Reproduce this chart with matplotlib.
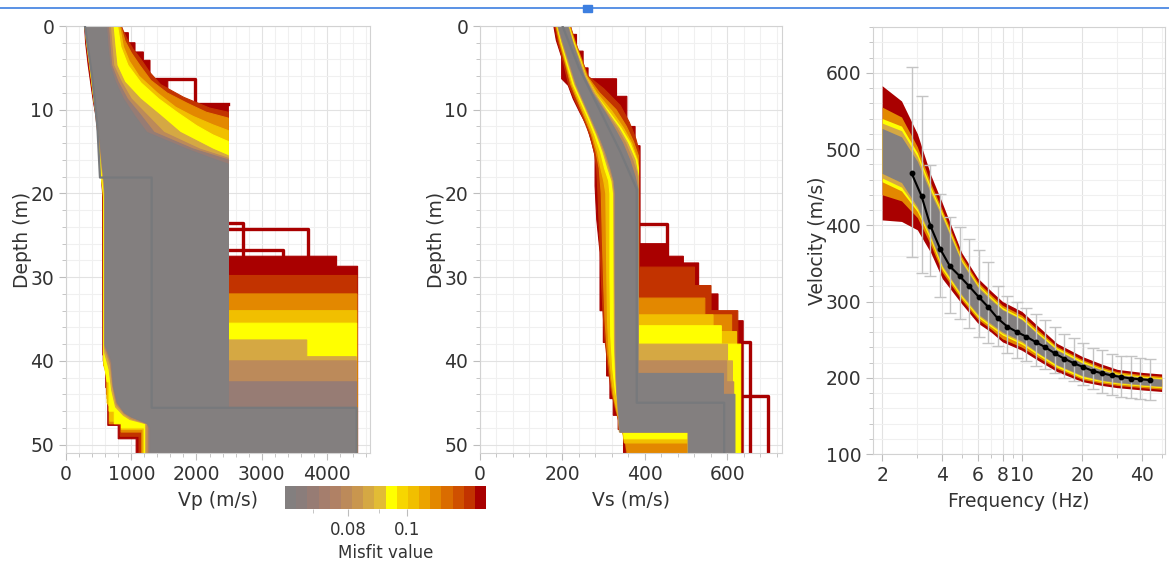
import numpy as np
import matplotlib.pyplot as plt
from matplotlib.colors import ListedColormap, LogNorm
from matplotlib.cm import ScalarMappable
from matplotlib.ticker import MultipleLocator, FixedLocator, FixedFormatter, NullFormatter
from matplotlib.lines import Line2D
from matplotlib.patches import Rectangle

# misfit palette (gray -> yellow -> dark red), log spaced classes
palette = ['#837f7f', '#8a7d7b', '#977c74', '#a57e6d', '#b08165', '#bc8a5a', '#c9964e', '#d5a843', '#e2bc35',
           '#ffff00', '#f7d600', '#f1bf00', '#eca400', '#e38800', '#da6c00', '#cf5000', '#c23300', '#a90000']
misfit_min, misfit_max = 0.0628, 0.1354

# ---- Vp ensemble: region covered by models of each misfit class, (Vp, depth) ----
vp_misfit = [0.132, 0.126, 0.112, 0.102, 0.094, 0.086, 0.078, 0.070, 0.064]
vp_left = [
    [(285, 0), (300, 2), (340, 4.7), (400, 8), (430, 9.5), (470, 11), (520, 15), (545, 18), (560, 20), (565, 39.3),
     (610, 39.3), (610, 43.2), (640, 43.2), (640, 47.7), (800, 47.7), (800, 49.3), (1075, 49.3), (1075, 51)],
    [(288, 0), (310, 2), (355, 4.7), (410, 8), (445, 10), (490, 13), (530, 16.5), (555, 19), (568, 20.5), (570, 40),
     (620, 40), (620, 44), (655, 44), (655, 47.5), (830, 47.5), (830, 49), (1120, 49), (1120, 51)],
    [(290, 0), (315, 2), (362, 4.7), (425, 8.5), (455, 10), (500, 13.5), (535, 16.5), (558, 19), (572, 20.5),
     (575, 40.5), (628, 41), (628, 44.5), (665, 44.5), (665, 47.5), (845, 47.5), (845, 48.5), (1160, 48.5), (1160, 51)],
    [(291, 0), (318, 2), (366, 4.8), (432, 9), (465, 10.5), (505, 13.5), (530, 16), (545, 18), (575, 20.3), (578, 40.5),
     (630, 42), (630, 45), (670, 45.5), (670, 47.2), (850, 47.2), (850, 48.2), (1180, 48.2), (1180, 51)],
    [(291, 0), (320, 2), (370, 5), (440, 9.5), (470, 10.5), (500, 13), (520, 16), (540, 18), (575, 20), (580, 40),
     (630, 42.5), (660, 42.5), (660, 46), (740, 46), (740, 47.5), (850, 47.5), (850, 48), (1200, 48), (1200, 51)],
    [(293, 0), (325, 2), (380, 5.5), (450, 9.5), (500, 13), (530, 15.5), (555, 17.5), (580, 19.5), (588, 20.5),
     (590, 39), (660, 41), (700, 43.5), (760, 45.5), (880, 46.5), (980, 47), (1220, 47.5), (1220, 51)],
    [(294, 0), (327, 2), (385, 5.2), (455, 9.2), (505, 12.8), (535, 15.2), (560, 17.2), (583, 18.8), (594, 20),
     (595, 38.5), (680, 40.5), (715, 43), (770, 45.2), (890, 46.3), (1000, 46.9), (1240, 47.5), (1240, 51)],
    [(295, 0), (328, 2), (388, 5), (458, 9), (508, 12.7), (538, 15), (563, 17), (585, 18.3), (598, 20), (598, 38.2),
     (690, 40.2), (722, 43), (780, 45), (895, 46.2), (1003, 46.7), (1245, 47.4), (1270, 48), (1270, 51)],
    [(296, 0), (330, 2), (390, 5), (460, 9), (510, 12.7), (540, 15), (565, 17), (587, 18.3), (600, 20), (600, 38),
     (700, 40), (730, 43), (790, 45), (900, 46.2), (1006, 46.7), (1250, 47.5), (1290, 48), (1290, 51)],
]
vp_right = [
    [(853, 0), (853, 0.8), (955, 0.8), (955, 2), (1057, 2), (1057, 3.1), (1185, 3.1), (1185, 4.1), (1287, 4.1),
     (1287, 6.3), (1560, 6.3), (1560, 9.3), (2488, 9.3), (2488, 27.5), (4148, 27.5), (4148, 28.7), (4470, 28.7),
     (4470, 51)],
    [(845, 0), (930, 1.5), (1030, 2.8), (1150, 4), (1280, 5.5), (1450, 7), (1800, 8.5), (2200, 9.8), (2488, 10.3),
     (2488, 29.8), (4460, 29.8), (4460, 51)],
    [(835, 0), (905, 1.8), (1000, 3.2), (1130, 4.7), (1300, 6.5), (1550, 8), (1850, 9.2), (2150, 10.3), (2488, 11),
     (2488, 32), (4460, 32), (4460, 51)],
    [(820, 0), (880, 2.5), (970, 4.2), (1120, 6), (1400, 8), (1680, 9.7), (1950, 10.8), (2250, 11.8), (2488, 12.5),
     (2488, 34), (4455, 34), (4455, 51)],
    [(790, 0), (840, 2.5), (950, 4.7), (1150, 6.8), (1420, 8.7), (1700, 10.3), (2000, 11.9), (2250, 13),
     (2488, 13.8), (2488, 35.5), (4455, 35.5), (4455, 51)],
    [(720, 0), (750, 2.5), (780, 4.7), (900, 6.7), (1140, 8.7), (1450, 10.7), (1750, 12.7), (2250, 14.7),
     (2488, 15.5), (2488, 37.5), (3690, 37.5), (3690, 39.5), (4450, 39.5), (4450, 51)],
    [(680, 0), (705, 2.5), (730, 4.7), (850, 6.7), (1000, 8.7), (1250, 10.7), (1500, 12.7), (2050, 14.7),
     (2488, 15.8), (2488, 40), (4450, 40), (4450, 51)],
    [(650, 0), (675, 2.5), (700, 4.7), (800, 6.7), (940, 8.7), (1150, 10.7), (1350, 12.7), (1950, 14.7),
     (2488, 16), (2488, 42.5), (4455, 42.5), (4455, 51)],
    [(620, 0), (645, 2.5), (675, 4.7), (760, 6.7), (880, 8.7), (1050, 10.7), (1237, 12.7), (1850, 14.7),
     (2300, 16), (2488, 16.5), (2488, 45.6), (4455, 45.6), (4455, 51)],
]
# single worst models drawn as outlines
vp_outliers = [
    [(1287, 6.3), (1977, 6.3), (1977, 9.3), (2488, 9.3)],
    [(2488, 23.5), (2718, 23.5), (2718, 51)],
    [(2488, 24.3), (3714, 24.3), (3714, 51)],
    [(2488, 26.7), (3330, 26.7), (3330, 51)],
]
vp_best = [(290, 0), (400, 6), (480, 12), (520, 18.1), (1313, 18.1), (1313, 45.6), (4455, 45.6), (4455, 51)]

# ---- Vs ensemble ----
vs_misfit = [0.132, 0.126, 0.112, 0.102, 0.094, 0.086, 0.078, 0.064]
vs_left = [
    [(179, 0), (185, 1.7), (198, 3.7), (198, 6.3), (214, 7.1), (226, 8.7), (242, 10.3), (259, 11.9), (271, 13.9),
     (279, 15.5), (279, 19.1), (283, 23.1), (291, 27), (291, 34), (299, 34), (299, 37.8), (307, 37.8), (307, 41.8),
     (315, 41.8), (315, 44.5), (323, 44.5), (323, 46.5), (335, 46.5), (335, 48.2), (348, 48.2), (348, 51)],
    [(182, 0), (190, 2), (203, 4.5), (215, 7), (232, 9), (250, 11), (266, 13), (277, 15), (283, 17), (286, 20),
     (290, 25), (294, 30), (298, 34), (303, 37.5), (311, 41), (318, 43.5), (327, 45.5), (337, 47.3), (350, 49),
     (355, 51)],
    [(184, 0), (193, 2), (207, 4.5), (220, 7), (237, 9), (254, 11), (270, 13), (281, 15), (289, 17), (294, 20),
     (297, 26), (300, 31), (303, 35), (308, 38.5), (315, 41.5), (322, 44), (331, 46), (341, 47.8), (352, 49.5),
     (357, 51)],
    [(186, 0), (195, 2), (209, 4.5), (223, 7), (240, 9), (257, 11), (273, 13), (285, 15), (293, 17), (300, 18.5),
     (305, 20), (307, 28), (309, 35), (313, 39), (319, 42), (326, 44.5), (335, 46.5), (345, 48.2), (350, 49.8)],
    [(187, 0), (197, 2), (211, 4.5), (226, 7), (244, 9), (262, 11), (278, 13), (292, 15), (302, 17), (312, 18.5),
     (315, 20), (315, 30), (317, 37), (322, 41), (328, 43.5), (336, 45.5), (345, 47.3), (350, 49.3)],
    [(188, 0), (199, 2), (214, 4.5), (230, 7), (248, 9), (266, 11), (283, 13), (298, 15), (310, 17), (320, 18.5),
     (324, 20), (325, 30), (326, 38), (329, 42), (333, 45), (338, 48.5)],
    [(189, 0), (200, 2), (216, 4.5), (232, 7), (250, 9), (268, 11), (285, 13), (301, 15), (314, 17), (323, 18.5),
     (326, 20), (327, 30), (328, 39), (331, 43), (335, 46), (339, 48.5)],
    [(190, 0), (202, 2), (218, 4.5), (234, 7), (252, 9), (270, 11), (288, 13), (304, 15), (317, 17), (325, 18.5),
     (328, 20), (328, 30), (330, 40), (333, 44), (337, 46.5), (340, 48.5)],
]
vs_right = [
    [(220, 0), (220, 1), (234, 1), (234, 3), (250, 3), (250, 5), (262, 5), (262, 6.3), (331, 6.3), (331, 8.4),
     (356, 8.4), (356, 12), (376, 12), (376, 14.3), (388, 14.3), (388, 26), (453, 26), (453, 27.5), (493, 27.5),
     (493, 28.3), (530, 28.3), (530, 32), (577, 32), (577, 35.2), (638, 35.2), (638, 51)],
    [(219, 0), (232, 2), (247, 4), (262, 6), (300, 7.5), (340, 9.5), (362, 11.5), (378, 13.5), (386, 15), (386, 28.8),
     (520, 28.8), (520, 31), (560, 31), (560, 34), (625, 34), (625, 51)],
    [(218, 0), (231, 2), (246, 4), (260, 6), (290, 8), (330, 10), (355, 12), (372, 13.8), (384, 15.5), (384, 32.5),
     (545, 32.5), (545, 34.5), (610, 34.5), (610, 51)],
    [(216, 0), (229, 2), (244, 4), (258, 6), (283, 8), (320, 10.2), (348, 12.2), (368, 14), (382, 16), (384, 17),
     (384, 34.5), (565, 34.5), (565, 36.5), (622, 36.5), (622, 51), (505, 51), (505, 49.8)],
    [(215, 0), (228, 2), (243, 4), (256, 6), (278, 8), (312, 10.2), (342, 12.2), (364, 14), (380, 16), (384, 17),
     (384, 35.8), (585, 35.8), (585, 38), (632, 38), (632, 51), (505, 51), (505, 49.3)],
    [(214, 0), (226, 2), (241, 4), (256, 6), (278, 8), (308, 10.2), (337, 12.2), (358, 14), (376, 16), (384, 18),
     (384, 38), (600, 38), (600, 40), (612, 40), (612, 51), (505, 51), (505, 48.5)],
    [(213, 0), (225, 2), (239, 4), (253, 6), (275, 8), (304, 10.2), (332, 12.2), (353, 14), (370, 16), (380, 17.5),
     (383, 19), (383, 40), (598, 40), (598, 42.5), (615, 42.5), (615, 51), (505, 51), (505, 48.5)],
    [(212, 0), (224, 2), (238, 4), (252, 6), (272, 8), (302, 10.2), (326, 12.2), (346, 14), (363, 16), (376, 18),
     (383, 19.5), (383, 41.5), (590, 41.5), (590, 44), (618, 44), (618, 51), (505, 51), (505, 48.5)],
]
vs_outliers = [
    [(388, 23.6), (453, 23.6), (453, 27.5)],
    [(600, 44.2), (699, 44.2), (699, 51)],
    [(620, 37.7), (655, 37.7), (655, 51)],
]
vs_best = [(200, 0), (240, 5), (290, 10), (340, 15), (380, 19.5), (380, 45), (592, 45), (592, 51)]

# ---- dispersion curves: velocity band of each misfit class ----
curve_freq = [2, 2.5, 3, 3.5, 4, 5, 6, 7, 8, 10, 12, 15, 20, 25, 30, 40, 50]
curve_misfit = [0.132, 0.112, 0.094, 0.086, 0.064]
curve_hi = [
    [583, 563, 520, 466, 429, 364, 331, 314, 300, 287, 268, 245, 228, 218, 211, 207, 205],
    [555, 542, 503, 455, 420, 359, 326, 309, 295, 282, 263, 241, 224, 214, 208, 204, 202],
    [540, 530, 495, 450, 416, 355, 323, 306, 292, 279, 260, 239, 222, 212, 206, 202, 200],
    [534, 524, 490, 446, 413, 353, 321, 304, 290, 277, 258, 237, 220, 211, 205, 201, 199],
    [527, 516, 484, 442, 410, 351, 319, 302, 289, 276, 257, 236, 219, 210, 204, 200, 198],
]
curve_lo = [
    [407, 405, 394, 364, 330, 297, 272, 260, 247, 236, 223, 208, 195, 190, 187, 184, 182],
    [440, 432, 410, 374, 338, 302, 277, 264, 251, 240, 227, 212, 198, 193, 190, 187, 185],
    [457, 445, 418, 380, 342, 305, 280, 267, 256, 244, 230, 214, 200, 195, 192, 189, 187],
    [462, 450, 421, 383, 345, 307, 282, 269, 258, 246, 232, 216, 202, 196, 193, 190, 188],
    [468, 456, 424, 386, 347, 309, 284, 271, 260, 248, 233, 217, 203, 197, 194, 191, 189],
]

# measured dispersion curve with error bars
obs_freq = [2.81, 3.15, 3.49, 3.90, 4.37, 4.90, 5.45, 6.08, 6.77, 7.56, 8.46, 9.46, 10.5,
            11.7, 13.1, 14.6, 16.3, 18.2, 20.3, 22.6, 25.1, 28.1, 31.4, 35.1, 39.2, 43.8]
obs_vel = [468, 438, 399, 369, 346, 333, 320, 306, 293, 278, 267, 260, 254,
           247, 240, 232, 225, 219, 214, 209, 206, 203, 201, 199, 198, 197]
obs_hi = [607, 569, 479, 441, 411, 398, 382, 368, 352, 320, 307, 299, 291,
          283, 276, 267, 258, 252, 245, 239, 236, 231, 229, 228, 226, 225]
obs_lo = [359, 337, 333, 306, 285, 277, 265, 254, 245, 242, 232, 226, 222,
          216, 212, 206, 200, 196, 190, 185, 180, 177, 175, 174, 172, 171]

TXT = '#333333'
cmap = ListedColormap(palette)
norm = LogNorm(misfit_min, misfit_max)


def style_axes(ax):
    for s in ax.spines.values():
        s.set_color('#d2d2d2')
    ax.tick_params(which='both', direction='out', color='#bdbdbd', labelcolor=TXT, labelsize=13.5)
    ax.tick_params(which='major', length=5)
    ax.tick_params(which='minor', length=3)
    ax.grid(which='major', color='#e2e2e2', lw=0.8)
    ax.grid(which='minor', color='#f0f0f0', lw=0.8)
    ax.set_axisbelow(True)


def draw_ensemble(ax, misfits, lefts, rights, outliers, best):
    for k, (m, left, right) in enumerate(zip(misfits, lefts, rights)):
        poly = left + right[::-1]
        vv = [p[0] for p in poly]
        dd = [p[1] for p in poly]
        c = cmap(norm(m))
        ax.fill(vv, dd, color=c, lw=0.8, ec=c, zorder=2)
        if k == 0:
            for line in outliers:
                ax.plot([p[0] for p in line], [p[1] for p in line], color=c, lw=2.4, zorder=2)
    ax.plot([p[0] for p in best], [p[1] for p in best], color='#77797c', lw=1.6, zorder=3)


fig = plt.figure(figsize=(11.69, 5.63), dpi=100)

# Vp profiles
ax1 = fig.add_axes([0.0565, 0.1954, 0.2600, 0.7584])
draw_ensemble(ax1, vp_misfit, vp_left, vp_right, vp_outliers, vp_best)
ax1.set_xlim(0, 4660)
ax1.set_ylim(51, 0)
ax1.xaxis.set_major_locator(MultipleLocator(1000))
ax1.xaxis.set_minor_locator(MultipleLocator(200))
ax1.yaxis.set_major_locator(MultipleLocator(10))
ax1.yaxis.set_minor_locator(MultipleLocator(2))
style_axes(ax1)
ax1.set_xlabel('Vp (m/s)', fontsize=13.5, color=TXT, labelpad=5)
ax1.set_ylabel('Depth (m)', fontsize=13.5, color=TXT, labelpad=-1)

# Vs profiles
ax2 = fig.add_axes([0.4106, 0.1954, 0.2583, 0.7584])
draw_ensemble(ax2, vs_misfit, vs_left, vs_right, vs_outliers, vs_best)
ax2.set_xlim(0, 732)
ax2.set_ylim(51, 0)
ax2.xaxis.set_major_locator(MultipleLocator(200))
ax2.xaxis.set_minor_locator(MultipleLocator(40))
ax2.yaxis.set_major_locator(MultipleLocator(10))
ax2.yaxis.set_minor_locator(MultipleLocator(2))
style_axes(ax2)
ax2.set_xlabel('Vs (m/s)', fontsize=13.5, color=TXT, labelpad=5)
ax2.set_ylabel('Depth (m)', fontsize=13.5, color=TXT, labelpad=-1)

# dispersion curves
ax3 = fig.add_axes([0.7468, 0.1936, 0.2498, 0.7584])
for m, hi, lo in zip(curve_misfit, curve_hi, curve_lo):
    ax3.fill_between(curve_freq, lo, hi, color=cmap(norm(m)), lw=0, zorder=2)
yerr = [np.array(obs_vel) - np.array(obs_lo), np.array(obs_hi) - np.array(obs_vel)]
ax3.errorbar(obs_freq, obs_vel, yerr=yerr, fmt='none', ecolor='#c4c4c4', elinewidth=1, capsize=4, zorder=3)
ax3.plot(obs_freq, obs_vel, color='black', lw=1.5, marker='o', ms=3.2, zorder=4)
ax3.set_xscale('log')
ax3.set_xlim(1.8, 52)
ax3.set_ylim(100, 660)
ax3.xaxis.set_major_locator(FixedLocator([2, 4, 6, 8, 10, 20, 40]))
ax3.xaxis.set_major_formatter(FixedFormatter(['2', '4', '6', '8', '10', '20', '40']))
ax3.xaxis.set_minor_locator(FixedLocator([3, 5, 7, 9, 30, 50]))
ax3.xaxis.set_minor_formatter(NullFormatter())
ax3.yaxis.set_major_locator(MultipleLocator(100))
ax3.yaxis.set_minor_locator(MultipleLocator(20))
style_axes(ax3)
ax3.set_xlabel('Frequency (Hz)', fontsize=13.5, color=TXT, labelpad=5)
ax3.set_ylabel('Velocity (m/s)', fontsize=13.5, color=TXT, labelpad=-1)

# misfit colour scale
cax = fig.add_axes([0.2438, 0.0959, 0.1720, 0.0409])
sm = ScalarMappable(norm=norm, cmap=cmap)
cb = fig.colorbar(sm, cax=cax, orientation='horizontal')
cb.outline.set_visible(False)
cb.set_ticks([0.08, 0.1])
cb.set_ticklabels(['0.08', '0.1'])
cax.xaxis.set_minor_locator(FixedLocator([0.07, 0.09]))
cax.xaxis.set_minor_formatter(NullFormatter())
cax.tick_params(which='both', color='#bdbdbd', labelcolor=TXT, labelsize=12)
cax.tick_params(which='major', length=5)
cax.tick_params(which='minor', length=3)
cb.set_label('Misfit value', fontsize=12, color=TXT)

# window frame line across the top
fig.add_artist(Line2D([0, 1], [1 - 8 / 563] * 2, color='#3d7fe0', lw=1.2, transform=fig.transFigure))
fig.add_artist(Rectangle((583 / 1169, 1 - 12 / 563), 9 / 1169, 7 / 563, color='#3d7fe0',
                         transform=fig.transFigure))

fig.savefig('out.png', dpi=100)
